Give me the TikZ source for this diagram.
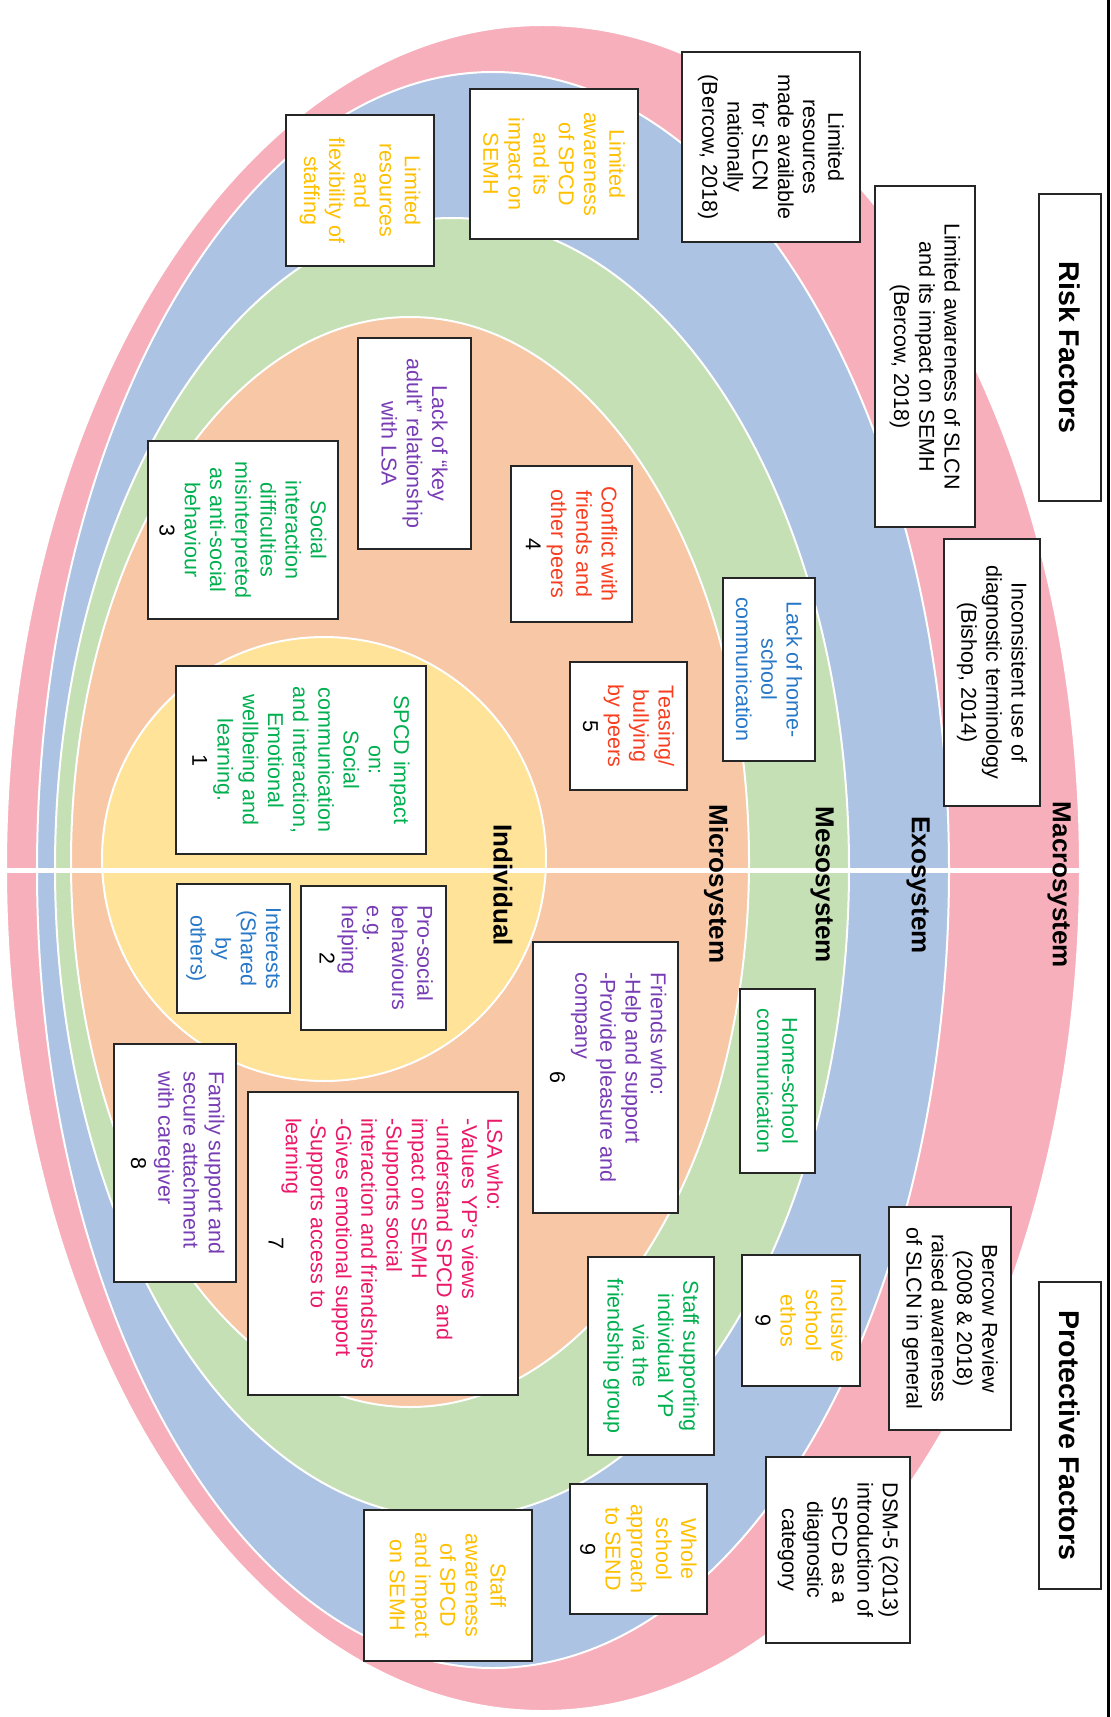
\documentclass[tikz,border=0pt]{standalone}
\usepackage{fontspec}
\setmainfont{Liberation Sans}
\definecolor{pinkR}{RGB}{247,175,187}
\definecolor{blueR}{RGB}{173,195,228}
\definecolor{greenR}{RGB}{197,224,181}
\definecolor{peachR}{RGB}{247,199,166}
\definecolor{yellowR}{RGB}{254,227,152}
\definecolor{goldT}{RGB}{255,192,0}
\definecolor{redT}{RGB}{248,62,32}
\definecolor{purpleT}{RGB}{120,60,180}
\definecolor{greenT}{RGB}{0,176,80}
\definecolor{blueT}{RGB}{40,120,200}
\definecolor{magT}{RGB}{235,25,105}
\newcommand\bodyf{\fontsize{10.75}{12.6}\selectfont}
\newcommand\headf{\fontsize{14.3}{17}\selectfont\bfseries}
\newcommand\ringf{\fontsize{13}{15}\selectfont\bfseries}
\newcommand\BX[7]{\node[box,#6,minimum width={(#5-#3)*0.5pt},minimum height={(#4-#2)*0.5pt}] (#1) at ({(#2+#4)/2},{(#3+#5)/2}) {#7};}
\tikzset{
  box/.style={draw=black!85, line width=1.2pt, fill=white, rotate=-90, inner sep=2pt, font=\bodyf, align=center, text=black},
  ring/.style={draw=white, line width=1pt},
  ringlabel/.style={rotate=-90, font=\ringf, text=black, inner sep=0pt},
}
\begin{document}
\begin{tikzpicture}[x=0.5pt,y=-0.5pt]
\useasboundingbox (0,0) rectangle (1111,1717);
\fill[white] (0,0) rectangle (1111,1717);
% rings
\draw[ring, fill=pinkR] (543,868) ellipse [x radius=268.5pt, y radius=421.5pt];
\draw[ring, fill=blueR] (493,870) ellipse [x radius=228pt, y radius=399pt];
\draw[ring, fill=greenR] (452,868) ellipse [x radius=198.5pt, y radius=325pt];
\draw[ring, fill=peachR] (410,862) ellipse [x radius=169.5pt, y radius=272.5pt];
\draw[ring, fill=yellowR] (324,859) circle [radius=111pt];
% white dividing line and right border
\coordinate (wl) at (6,870);
\coordinate (wr) at (1081,870);
\draw[white, line width=2.5pt] (wl) -- (wr);
\coordinate (bt) at (1108,0);
\coordinate (bb) at (1108,1717);
\draw[black, line width=1.5pt] (bt) -- (bb);
% headings
\BX{riskf}{1039}{194}{1101}{501}{font=\headf}{Risk Factors}
\BX{protf}{1039}{1282}{1101}{1589}{font=\headf}{Protective Factors}
% macrosystem boxes
\BX{resnat}{682}{52}{860}{242}{}{Limited\\resources\\made available\\for SLCN\\nationally\\(Bercow, 2018)}
\BX{awslcn}{875}{186}{975}{527}{}{Limited awareness of SLCN\\and its impact on SEMH\\(Bercow, 2018)}
\BX{incons}{944}{539}{1040}{806}{}{Inconsistent use of\\diagnostic terminology\\(Bishop, 2014)}
\BX{bercow}{889}{1207}{1011}{1430}{}{Bercow Review\\(2008 \& 2018)\\raised awareness\\of SLCN in general}
\BX{dsm}{766}{1457}{910}{1643}{}{DSM-5 (2013)\\introduction of\\SPCD as a\\diagnostic\\category}
% exosystem boxes
\BX{awspcd}{470}{89}{638}{239}{text=goldT}{Limited\\awareness\\of SPCD\\and its\\impact on\\SEMH}
\BX{resstaff}{286}{115}{434}{266}{text=goldT}{Limited\\resources\\and\\flexibility of\\staffing}
\BX{inclusive}{742}{1255}{860}{1386}{text=goldT}{Inclusive\\school\\ethos\\{\color{black}9}}
\BX{whole}{570}{1484}{707}{1614}{text=goldT}{Whole\\school\\approach\\to SEND\\{\color{black}9}}
\BX{staffaw}{364}{1510}{532}{1661}{text=goldT}{Staff\\awareness\\of SPCD\\and impact\\on SEMH}
% mesosystem boxes
\BX{homelack}{723}{578}{815}{761}{text=blueT}{Lack of home-\\school\\communication}
\BX{homeschool}{740}{989}{815}{1173}{text=greenT}{Home-school\\communication}
\BX{staffsupp}{588}{1257}{714}{1455}{text=greenT}{Staff supporting\\individual YP\\via the\\friendship group}
% microsystem boxes
\BX{keyadult}{358}{338}{471}{549}{text=purpleT}{Lack of ``key\\adult'' relationship\\with LSA}
\BX{social}{148}{441}{338}{619}{text=greenT}{Social\\interaction\\difficulties\\misinterpreted\\as anti-social\\behaviour\\{\color{black}3}}
\BX{conflict}{511}{466}{632}{622}{text=redT}{Conflict with\\friends and\\other peers\\{\color{black}4}}
\BX{teasing}{570}{662}{687}{790}{text=redT}{Teasing/\\bullying\\by peers\\{\color{black}5}}
\BX{friends}{533}{942}{678}{1213}{text=purpleT}{\begin{tabular}{@{}l@{}}Friends who:\\-Help and support\\-Provide pleasure and\\company\\\multicolumn{1}{@{}c@{}}{\color{black}6}\end{tabular}}
\BX{lsa}{248}{1092}{518}{1395}{text=magT}{\begin{tabular}{@{}l@{}}LSA who:\\-Values YP's views\\-understand SPCD and\\impact on SEMH\\-Supports social\\interaction and friendships\\-Gives emotional support\\-Supports access to\\learning\\[-4pt]\multicolumn{1}{@{}c@{}}{\color{black}7}\end{tabular}}
\BX{family}{114}{1044}{236}{1282}{text=purpleT}{\begin{tabular}{@{}l@{}}Family support and\\secure attachment\\with caregiver\\[1pt]\multicolumn{1}{@{}c@{}}{\color{black}8}\end{tabular}}
% individual boxes
\BX{spcd}{176}{666}{426}{854}{text=greenT}{SPCD impact\\on:\\Social\\communication\\and interaction,\\Emotional\\wellbeing and\\learning.\\{\color{black}1}}
\BX{prosocial}{301}{886}{446}{1030}{text=purpleT}{\begin{tabular}{@{}l@{}}Pro-social\\behaviours\\e.g.\\helping\\[-1.5pt]\multicolumn{1}{@{}c@{}}{\color{black}2}\end{tabular}}
\BX{interests}{177}{884}{290}{1013}{text=blueT}{Interests\\(Shared\\by\\others)}
% ring labels
\node[ringlabel] (lind) at (503,885) {Individual};
\node[ringlabel] (lmicro) at (716,884) {Microsystem};
\node[ringlabel] (lmeso) at (822,885) {Mesosystem};
\node[ringlabel] (lexo) at (918,885) {Exosystem};
\node[ringlabel] (lmacro) at (1059,885) {Macrosystem};
\end{tikzpicture}
\end{document}
